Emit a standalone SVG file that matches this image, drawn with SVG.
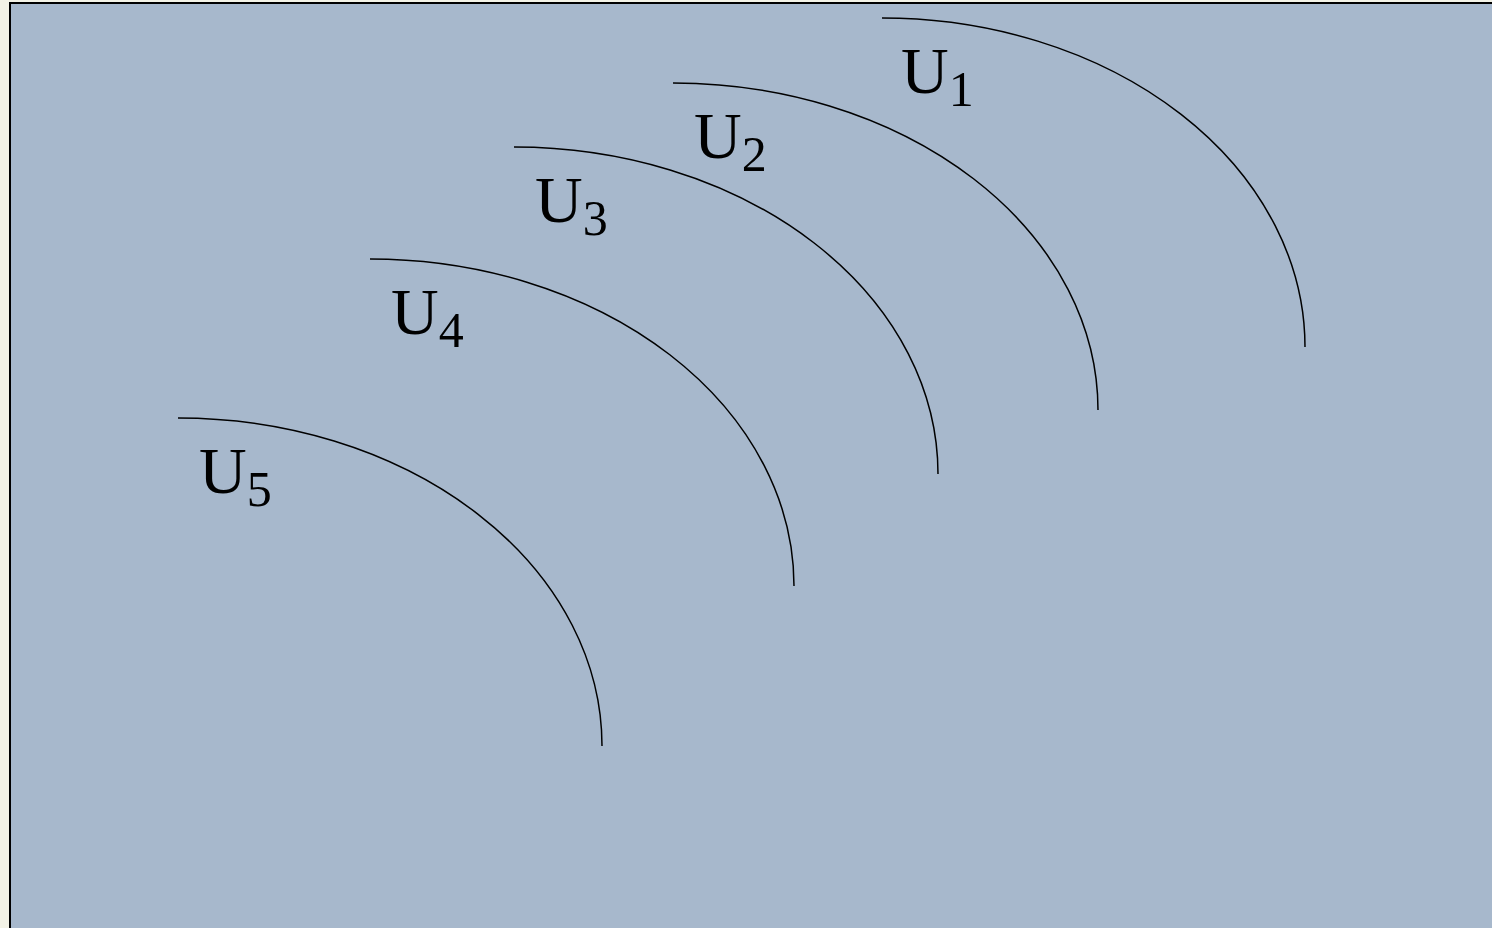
<svg xmlns="http://www.w3.org/2000/svg" width="1492" height="928" viewBox="0 0 1492 928">
<style>
.arc{fill:none;stroke:#000;stroke-width:1.5}
.lbl{font-family:'Liberation Serif','Times New Roman',serif;font-size:66px;fill:#000}
.sub{font-size:50px}
</style>
<rect x="0" y="0" width="1492" height="928" fill="#f3f2e6"/>
<rect x="10" y="3" width="1500" height="940" fill="#a7b8cc" stroke="#000" stroke-width="2"/>
<g id="connectors">
<path id="arc1" class="arc" d="M882,18 A423,329 0 0 1 1305,347"/>
<path id="arc2" class="arc" d="M673,83 A425,327 0 0 1 1098,410"/>
<path id="arc3" class="arc" d="M514,147 A424,327 0 0 1 938,474"/>
<path id="arc4" class="arc" d="M370,259 A424,327 0 0 1 794,586"/>
<path id="arc5" class="arc" d="M178,418 A424,328 0 0 1 602,746"/>
</g>
<g id="U1"><text class="lbl" x="901" y="93">U<tspan class="sub" dy="13">1</tspan></text></g>
<g id="U2"><text class="lbl" x="694" y="158">U<tspan class="sub" dy="13">2</tspan></text></g>
<g id="U3"><text class="lbl" x="535" y="222">U<tspan class="sub" dy="13">3</tspan></text></g>
<g id="U4"><text class="lbl" x="391" y="334">U<tspan class="sub" dy="13">4</tspan></text></g>
<g id="U5"><text class="lbl" x="199" y="493">U<tspan class="sub" dy="13">5</tspan></text></g>
</svg>
